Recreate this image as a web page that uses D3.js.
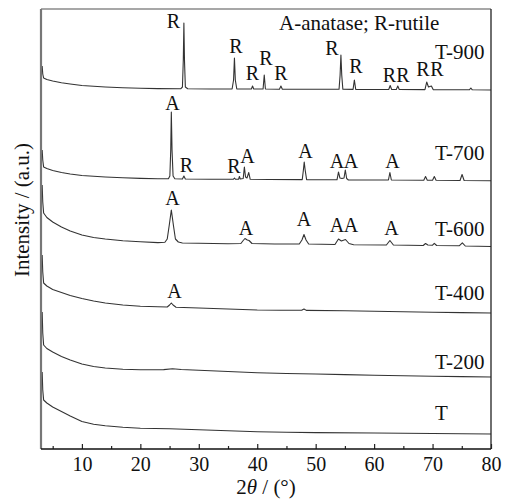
<!DOCTYPE html>
<html>
<head>
<meta charset="utf-8">
<script src="https://cdn.jsdelivr.net/npm/d3@7"></script>
<style>
  body { margin: 0; background: #fff; }
  svg text { font-family: "Liberation Serif", "Times New Roman", serif; fill: #111; }
  .traco { fill: none; stroke: #333; stroke-width: 1.1; stroke-linejoin: round; }
</style>
</head>
<body>
<svg id="grafico"></svg>
<script>
// Amostras (de cima para baixo) e dados [2theta, intensidade empilhada]
var amostras = ['T-900', 'T-700', 'T-600', 'T-400', 'T-200', 'T'];

var t900 = [[3.2,383],[3.3,375],[3.45,371],[4,369.5],[5,368],[6.5,366.3],[8,365],[10,363.5],[12,362.7],[14,362],[17,361.2],[20,360.7],[23,360.4],
  [26.9,360.2],[27.2,362],[27.35,389],[27.45,426],[27.55,389],[27.7,362],[28.1,360.2],[32,360],[35.7,360],[35.95,369],[36.1,391],[36.25,369],[36.5,360],
  [39.0,360],[39.2,363],[39.4,360],[41.0,360],[41.2,374],[41.4,360],[43.8,359.8],[44.05,363],[44.3,359.8],[50,359.7],[54.0,359.7],[54.18,374],[54.32,394],
  [54.46,374],[54.65,359.7],[56.4,359.6],[56.62,369],[56.85,359.6],[62.5,359.5],[62.75,363.5],[63.0,359.5],[63.8,359.5],[64.05,363],[64.3,359.5],
  [68.7,359.4],[69.0,367],[69.3,362],[69.8,363],[70.1,359.4],[76.3,359.2],[76.55,361],[76.8,359.2],[80,359]];

var t700 = [[3.2,299],[3.3,289],[3.45,282],[4,280.5],[5,278.5],[6.5,276.5],[8,275],[10,273.5],[12,272.7],[14,272],[17,271.2],[20,270.6],[23,270.3],
  [24.8,270.2],[25.05,273],[25.2,299],[25.3,337],[25.42,299],[25.6,273],[25.9,270.2],[27.2,270],[27.45,273],[27.7,270],[32,269.8],[35.9,269.7],[36.1,271],
  [36.3,269.7],[36.8,269.7],[36.95,272.5],[37.1,270],[37.6,270.5],[37.8,282],[38.0,272],[38.25,271],[38.55,276.5],[38.8,269.7],[42,269.5],[47.7,269.4],
  [47.9,279],[48.04,287],[48.2,279],[48.45,269.4],[53.65,269.2],[53.9,277],[54.15,271],[54.5,270.5],[54.85,271],[55.07,279],[55.3,270.5],[55.6,269],
  [60,269],[62.45,269],[62.7,276.5],[62.95,269],[68.5,268.8],[68.8,272.5],[69.1,268.8],[70.0,268.7],[70.3,272.5],[70.6,268.7],[74.7,268.5],[75.05,274.5],
  [75.4,268.5],[80,268.2]];

var t600 = [[3.2,264],[3.3,247],[3.45,236],[4,231.5],[5,227],[6.5,222],[8,218],[10,214],[12,211.5],[14,210],[17,208.2],[20,207.2],[23,206.4],[24.2,206.8],
  [24.6,210],[24.95,224],[25.3,239],[25.65,224],[26.0,210],[26.5,207],[27.2,206],[30,205.7],[35,205.3],[37.2,205.5],[37.6,208.5],[37.9,210.5],[38.3,209],
  [38.6,208.5],[39.1,205.5],[43,205],[47.2,205],[47.65,209],[48.0,214.5],[48.35,209],[48.8,205],[53.3,204.5],[53.9,210],[54.4,208],[55.1,209.5],[55.7,205.5],
  [56.5,204.3],[62.1,204],[62.7,208.5],[63.3,204],[68.4,203.5],[68.8,205.5],[69.2,204],[70.0,203.8],[70.3,205.7],[70.7,203.5],[74.6,203.3],[75.1,206.2],
  [75.6,203],[80,202.5]];

var t400 = [[3.2,194],[3.3,177],[3.45,166],[4,163],[5,159.5],[6.5,156.5],[8,153.5],[10,150.5],[12,148],[14,146],[17,144],[20,142.7],[23,142.2],[24.6,142],
  [25.0,144],[25.3,146],[25.6,144],[26.1,141.8],[30,141],[35,140],[40,139],[44,138.8],[47.6,138.7],[48.0,140],[48.4,138.6],[55,138.2],[60,137.8],[65,137.2],
  [70,136.7],[75,136.4],[80,136]];

var t200 = [[3.2,137],[3.3,116],[3.45,104],[4,100.5],[5,97],[6.5,92.5],[8,89],[10,85],[12,82.5],[14,81],[17,79.8],[20,79.2],[24,79.4],[25.5,80.3],[27,79.5],
  [30,78.8],[35,77.5],[40,76.2],[45,75.5],[50,75],[55,74.4],[60,73.8],[65,73.2],[70,72.7],[75,72.4],[80,72]];

var t0 = [[3.2,77],[3.3,59],[3.45,49],[4,46],[5,42],[6.5,37.5],[8,33],[10,27.5],[12,24.8],[14,23.2],[17,21.7],[20,20.8],[25,20.2],[30,19.2],[35,18.2],[40,17.2],
  [45,16.7],[50,16.4],[60,16],[70,15.5],[80,15]];

var series = [t900, t700, t600, t400, t200, t0];

// Nivel (intensidade) onde fica o nome de cada amostra
var nivelRotulo = [390, 289, 213, 149, 80, 29];

// Rotulos dos picos: [letra, 2theta, intensidade]
var picos = [
  ['R',25.67,421],['R',36.37,396],['R',39.19,369],['R',41.5,384],['R',44.07,369],['R',52.8,394],['R',56.9,376],
  ['R',62.63,367],['R',64.94,367],['R',68.37,373],['R',70.76,373],
  ['A',25.5,339],['R',27.9,277],['R',36.03,276],['A',38.33,286],['A',48.26,291],['A',53.65,281],['A',56.05,281],['A',63.15,281],
  ['A',25.5,244],['A',38.08,214],['A',48.0,223],['A',53.65,217],['A',56.05,217],['A',62.98,214],
  ['A',25.84,151]
];

var ticksX = [10, 20, 30, 40, 50, 60, 70, 80];
var ticksMenores = [5, 15, 25, 35, 45, 55, 65, 75];

//Seleção do SVG e margens
var largura = 506, altura = 501;
var margem = { esquerda: 41, direita: 15, superior: 9, inferior: 52 };
var svg = d3.select('#grafico').attr('width', largura).attr('height', altura);
var larguraPlotagem = largura - margem.esquerda - margem.direita;
var alturaPlotagem = altura - margem.superior - margem.inferior;

var plotagem = svg.append('g')
                  .attr('transform', 'translate(' + margem.esquerda + ',' + margem.superior + ')');

//Escalas
var x = d3.scaleLinear().domain([3, 80]).range([0, larguraPlotagem]);
var y = d3.scaleLinear().domain([0, 440]).range([alturaPlotagem, 0]);

plotagem.append('clipPath').attr('id', 'recorte')
        .append('rect').attr('width', larguraPlotagem).attr('height', alturaPlotagem);

//Curvas
var linha = d3.line().x(d => x(d[0])).y(d => y(d[1]));
plotagem.append('g').attr('clip-path', 'url(#recorte)')
        .selectAll('.traco').data(series).enter()
        .append('path')
        .classed('traco', true)
        .attr('d', linha);

//Eixo X com marcas para dentro
var eixoX = d3.axisBottom(x).tickValues(ticksX).tickSize(-5).tickPadding(8).tickFormat(d3.format('d'));
var gx = plotagem.append('g').attr('transform', 'translate(0,' + alturaPlotagem + ')').call(eixoX);
gx.select('.domain').remove();
gx.selectAll('line').attr('stroke', '#222').attr('stroke-width', 1.2);
gx.selectAll('text').style('font-size', '20px').attr('fill', '#111');

var eixoMenor = d3.axisBottom(x).tickValues(ticksMenores).tickSize(-3).tickFormat('');
var gm = plotagem.append('g').attr('transform', 'translate(0,' + alturaPlotagem + ')').call(eixoMenor);
gm.select('.domain').remove();
gm.selectAll('line').attr('stroke', '#222').attr('stroke-width', 1.2);

//Moldura
plotagem.append('line').attr('x1', 0).attr('x2', larguraPlotagem).attr('y1', 0).attr('y2', 0)
        .attr('stroke', '#8a8a8a').attr('stroke-width', 1.5);
plotagem.append('line').attr('x1', larguraPlotagem).attr('x2', larguraPlotagem).attr('y1', 0).attr('y2', alturaPlotagem)
        .attr('stroke', '#222').attr('stroke-width', 1.3);
plotagem.append('line').attr('x1', 0).attr('x2', 0).attr('y1', 0).attr('y2', alturaPlotagem)
        .attr('stroke', '#777').attr('stroke-width', 2.2);
plotagem.append('line').attr('x1', 0).attr('x2', larguraPlotagem).attr('y1', alturaPlotagem).attr('y2', alturaPlotagem)
        .attr('stroke', '#111').attr('stroke-width', 1.5);

//Nomes das amostras
plotagem.selectAll('.amostra').data(amostras).enter()
        .append('text')
        .classed('amostra', true)
        .attr('x', larguraPlotagem - 56)
        .attr('y', (d, i) => y(nivelRotulo[i]))
        .style('font-size', '21px')
        .text(d => d);

//Letras dos picos
plotagem.selectAll('.pico').data(picos).enter()
        .append('text')
        .classed('pico', true)
        .attr('x', d => x(d[1]))
        .attr('y', d => y(d[2]))
        .style('text-anchor', 'middle')
        .style('font-size', '20px')
        .text(d => d[0]);

//Legenda
plotagem.append('text')
        .attr('x', larguraPlotagem - 212)
        .attr('y', 21)
        .style('font-size', '21px')
        .text('A-anatase; R-rutile');

//Títulos dos eixos
var tituloX = plotagem.append('text')
        .attr('x', larguraPlotagem / 2)
        .attr('y', alturaPlotagem + 45)
        .style('text-anchor', 'middle')
        .style('font-size', '21px');
tituloX.append('tspan').text('2');
tituloX.append('tspan').style('font-style', 'italic').text('θ');
tituloX.append('tspan').text(' / (°)');

plotagem.append('text')
        .attr('transform', 'translate(-12,' + (alturaPlotagem / 2 - 19) + ') rotate(-90)')
        .style('text-anchor', 'middle')
        .style('font-size', '21px')
        .text('Intensity / (a.u.)');
</script>
</body>
</html>
